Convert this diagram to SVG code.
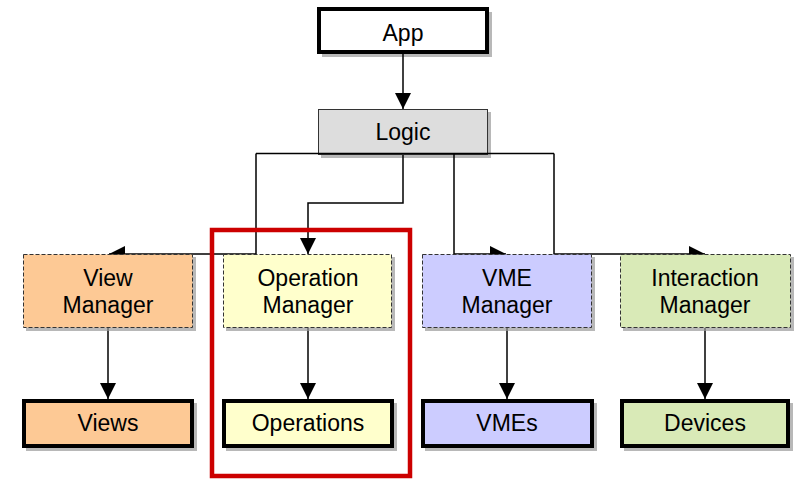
<svg xmlns="http://www.w3.org/2000/svg" width="799" height="480" viewBox="0 0 799 480">
<style>
text{font-family:"Liberation Sans",Arial,sans-serif;font-size:23px;fill:#000;text-anchor:middle}
.sh{fill:#9a9a9a;opacity:0.7}
.thick{stroke:#000;stroke-width:4}
.dash{stroke:#333;stroke-width:1;stroke-dasharray:4 2}
.conn{fill:none;stroke:#000;stroke-width:1.5}
</style>
<defs>
<marker id="ah" markerUnits="userSpaceOnUse" markerWidth="16" markerHeight="16" viewBox="0 0 14 14" refX="14" refY="7" orient="auto">
<path d="M0,0 L14,7 L0,14 Z" fill="#000"/>
</marker>
</defs>
<rect x="0" y="0" width="799" height="480" fill="#fff"/>
<g id="app">
<rect class="sh" x="322" y="12" width="170" height="45"/>
<rect class="thick" x="319" y="9" width="168" height="43" fill="#fff"/>
<text x="403" y="41">App</text>
</g>
<g id="logic">
<rect class="sh" x="321" y="112" width="170" height="46"/>
<rect x="318.5" y="109.5" width="169" height="45" fill="#dddddd" stroke="#333" stroke-width="1"/>
<text x="403" y="140">Logic</text>
</g>
<g id="connectors">
<line class="conn" x1="403" y1="54" x2="403" y2="109" marker-end="url(#ah)"/>
<polyline class="conn" points="256,153.5 554,153.5"/>
<polyline class="conn" points="256,153.5 256,254 109,254" marker-end="url(#ah)"/>
<polyline class="conn" points="403,155 403,203 308,203 308,254" marker-end="url(#ah)"/>
<polyline class="conn" points="454,153.5 454,254 506,254" marker-end="url(#ah)"/>
<polyline class="conn" points="554,153.5 554,254 705,254" marker-end="url(#ah)"/>
<line class="conn" x1="108" y1="328" x2="108" y2="399" marker-end="url(#ah)"/>
<line class="conn" x1="308" y1="328" x2="308" y2="399" marker-end="url(#ah)"/>
<line class="conn" x1="507" y1="328" x2="507" y2="399" marker-end="url(#ah)"/>
<line class="conn" x1="705" y1="328" x2="705" y2="399" marker-end="url(#ah)"/>
</g>
<g id="view-manager">
<rect class="sh" x="26" y="257" width="170" height="74"/>
<rect class="dash" x="23.5" y="254.5" width="169" height="73" fill="#fdc995"/>
<text x="108" y="286">View</text>
<text x="108" y="313">Manager</text>
</g>
<g id="operation-manager">
<rect class="sh" x="226" y="257" width="169" height="74"/>
<rect class="dash" x="223.5" y="254.5" width="168" height="73" fill="#ffffcc"/>
<text x="308" y="286">Operation</text>
<text x="308" y="313">Manager</text>
</g>
<g id="vme-manager">
<rect class="sh" x="425" y="257" width="170" height="74"/>
<rect class="dash" x="422.5" y="254.5" width="169" height="73" fill="#ccccff"/>
<text x="507" y="286">VME</text>
<text x="507" y="313">Manager</text>
</g>
<g id="interaction-manager">
<rect class="sh" x="623" y="257" width="171" height="74"/>
<rect class="dash" x="620.5" y="254.5" width="170" height="73" fill="#d9eab7"/>
<text x="705" y="286">Interaction</text>
<text x="705" y="313">Manager</text>
</g>
<g id="views">
<rect class="sh" x="26" y="403" width="171" height="48"/>
<rect class="thick" x="24" y="401" width="168" height="45" fill="#fdc995"/>
<text x="108" y="431">Views</text>
</g>
<g id="operations">
<rect class="sh" x="226" y="403" width="171" height="48"/>
<rect class="thick" x="224" y="401" width="168" height="45" fill="#ffffcc"/>
<text x="308" y="431">Operations</text>
</g>
<g id="vmes">
<rect class="sh" x="425" y="403" width="172" height="48"/>
<rect class="thick" x="423" y="401" width="169" height="45" fill="#ccccff"/>
<text x="507" y="431">VMEs</text>
</g>
<g id="devices">
<rect class="sh" x="624" y="403" width="169" height="48"/>
<rect class="thick" x="622" y="401" width="166" height="45" fill="#d9eab7"/>
<text x="705" y="431">Devices</text>
</g>
<g id="highlight">
<rect x="212" y="230" width="198" height="246" fill="none" stroke="#cc0000" stroke-width="4.5"/>
</g>
</svg>
